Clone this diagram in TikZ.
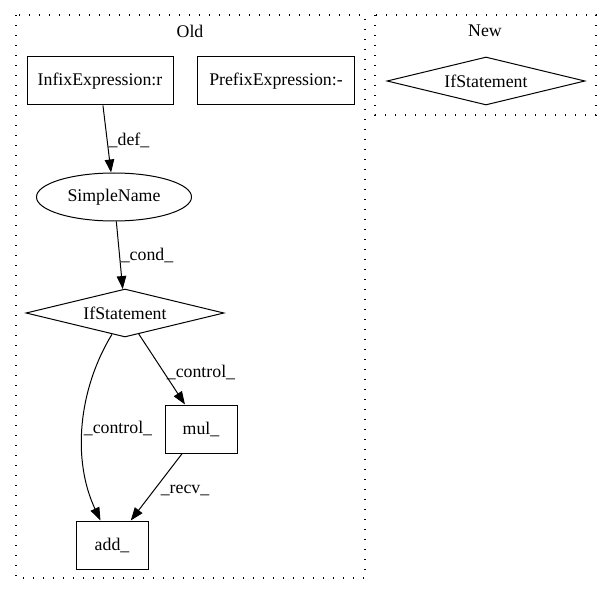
\documentclass[tikz,border=0pt]{standalone}
\usepackage{fontspec}
\setmainfont{Liberation Serif}
\usetikzlibrary{shapes.geometric,arrows.meta}
\begin{document}
\begin{tikzpicture}[x=1pt,y=-1pt,font=\fontsize{17.8}{20}\selectfont]

        % Styles
        \tikzstyle{cluster}=[line width=1.4pt,dash pattern=on 1.4pt off 8.6pt]
        \tikzstyle{box}=[draw,line width=1pt,rectangle,minimum height=48pt,inner sep=0pt]
        \tikzstyle{cond node}=[draw,line width=1pt,diamond,aspect=4,minimum width=198pt,minimum height=48pt,inner sep=0pt]
        \tikzstyle{name node}=[draw,line width=1pt,ellipse,minimum width=155pt,minimum height=48pt,inner sep=0pt]
        \tikzstyle{edge}=[line width=1pt,-{Triangle[length=13pt,width=9.5pt]}]
        \tikzstyle{edge label}=[inner sep=0pt]
        %The graphic
        \useasboundingbox (0,0) rectangle (611,596);
        %clusters
        \draw[style=cluster] (16,15) rectangle (365,578);
        \draw[style=cluster] (375,15) rectangle (596,115);
        \node (old label) at (190,31) {Old};
        \node (new label) at (485,31) {New};
        %nodes
        \node[box,minimum width=146pt] (infix) at (100,81) {InfixExpression:r};
        \node[box,minimum width=157pt] (prefix) at (276,81) {PrefixExpression:-};
        \node[name node] (simple) at (114,197) {SimpleName};
        \node[cond node] (if old) at (125,313) {IfStatement};
        \node[box,minimum width=72pt] (mul) at (201,429) {mul\_};
        \node[box,minimum width=72pt] (add) at (112,545) {add\_};
        \node[cond node] (if new) at (486,81) {IfStatement};
        %edges
        \draw[style=edge] (infix) -- (simple);
        \draw[style=edge] (simple) -- (if old);
        \draw[style=edge] (if old) -- (mul);
        \draw[style=edge] (if old) .. controls (78,390) and (72,460) .. (add);
        \draw[style=edge] (mul) -- (add);
        \node[edge label] (def label) at (129,140) {\_def\_};
        \node[edge label] (cond label) at (147,255) {\_cond\_};
        \node[edge label] (control right) at (201,372) {\_control\_};
        \node[edge label] (control left) at (118,428) {\_control\_};
        \node[edge label] (recv label) at (185,490) {\_recv\_};
\end{tikzpicture}
\end{document}
